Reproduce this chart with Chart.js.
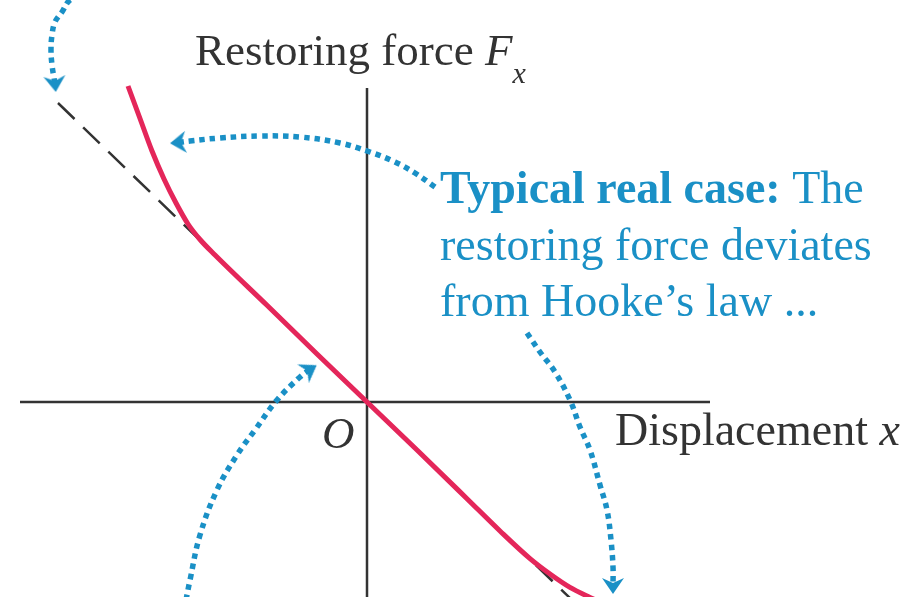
<!DOCTYPE html>
<html>
<head>
<meta charset="utf-8">
<script src="https://cdn.jsdelivr.net/npm/chart.js@4.4.0/dist/chart.umd.min.js"></script>
<style>
  html, body { margin: 0; padding: 0; background: #fff; }
  #wrap { width: 912px; height: 597px; }
</style>
</head>
<body>
<div id="wrap"><canvas id="chart" width="912" height="597"></canvas></div>
<script>
// Hooke's law (ideal, straight) and a typical real spring (curved)
const hookeX = [-3.09, 2.05];
const hookeF = [2.99, -1.98];

const realX = [-2.39, -2.27, -2.15, -2.03, -1.91, -1.79, -1.67, -1.52, -1.00, -0.50, 0, 0.50, 1.00, 1.33, 1.63, 1.83, 2.03, 2.23, 2.33];
const realF = [3.16, 2.835, 2.51, 2.23, 1.99, 1.78, 1.625, 1.47, 0.967, 0.48, 0, -0.48, -0.967, -1.29, -1.566, -1.72, -1.854, -1.954, -2.0];

// axis lines
const axisX = [-3.47, 3.43];
const axisF = [3.14, -1.95];

// dotted callout arrows (x, F pairs)
const arrowTopLeftX = [-2.67, -2.82, -2.97, -3.05, -3.12, -3.15, -3.16, -3.15, -3.13, -3.12];
const arrowTopLeftF = [4.12, 4.08, 4.02, 3.90, 3.80, 3.67, 3.52, 3.37, 3.24, 3.19];
const arrowRealX = [0.68, 0.48, 0.28, 0.03, -0.27, -0.67, -1.07, -1.47, -1.77, -1.88];
const arrowRealF = [2.15, 2.29, 2.40, 2.50, 2.59, 2.65, 2.66, 2.64, 2.61, 2.595];
const arrowLawX = [1.60, 1.73, 1.88, 2.03, 2.13, 2.23, 2.33, 2.40, 2.44, 2.46, 2.46];
const arrowLawF = [0.69, 0.50, 0.30, 0.02, -0.25, -0.48, -0.83, -1.08, -1.38, -1.65, -1.83];
const arrowLowX = [-1.81, -1.77, -1.67, -1.50, -1.30, -1.12, -0.90, -0.67, -0.58];
const arrowLowF = [-1.98, -1.78, -1.33, -0.88, -0.53, -0.28, 0.02, 0.25, 0.32];

const noteLines = ['restoring force deviates', 'from Hooke\u2019s law ...'];

const RED = 'rgb(228, 38, 90)';
const BLUE = '#1a90c6';
const INK = '#333333';
const SERIF = '"Liberation Serif", "Times New Roman", serif';

// barbed arrowhead, pointing up; rotated per dataset
const head = document.createElement('canvas');
head.width = 26;
head.height = 26;
(function () {
    const c = head.getContext('2d');
    c.fillStyle = BLUE;
    c.beginPath();
    c.moveTo(13, 4);
    c.lineTo(24, 20);
    c.lineTo(13, 15);
    c.lineTo(2, 20);
    c.closePath();
    c.fill();
})();

function pts(xs, ys) {
    return xs.map((x, i) => ({ x: x, y: ys[i] }));
}

function arrow(xs, ys, rotation) {
    const last = xs.length - 1;
    return {
        data: pts(xs, ys),
        borderColor: BLUE,
        borderWidth: 5.5,
        borderDash: [5.5, 5],
        borderCapStyle: 'butt',
        tension: 0.4,
        pointStyle: head,
        pointRadius: ctx => ctx.dataIndex === last ? 10 : 0,
        pointRotation: rotation
    };
}

// draws a row of text pieces one after another
function drawRuns(ctx, x, y, runs) {
    let cx = x;
    runs.forEach(r => {
        ctx.font = r.font;
        ctx.fillStyle = r.color;
        ctx.fillText(r.text, cx, y + (r.dy || 0));
        cx += ctx.measureText(r.text).width;
    });
}

const labelPlugin = {
    id: 'labels',
    afterDatasetsDraw(chart) {
        const ctx = chart.ctx;
        const sx = chart.scales.x, sy = chart.scales.y;
        const px = v => sx.getPixelForValue(v);
        const py = v => sy.getPixelForValue(v);
        ctx.save();
        ctx.textBaseline = 'alphabetic';
        ctx.textAlign = 'left';

        drawRuns(ctx, px(-1.72), py(3.37), [
            { text: 'Restoring force ', font: '45px ' + SERIF, color: INK },
            { text: 'F', font: 'italic 45px ' + SERIF, color: INK },
            { text: 'x', font: 'italic 30px ' + SERIF, color: INK, dy: 18 }
        ]);
        drawRuns(ctx, px(2.48), py(-0.43), [
            { text: 'Displacement ', font: '46px ' + SERIF, color: INK },
            { text: 'x', font: 'italic 46px ' + SERIF, color: INK }
        ]);
        drawRuns(ctx, px(-0.45), py(-0.46), [
            { text: 'O', font: 'italic 45px ' + SERIF, color: INK }
        ]);

        drawRuns(ctx, px(0.73), py(1.99), [
            { text: 'Typical real case:', font: 'bold 46px ' + SERIF, color: BLUE },
            { text: ' The', font: '46px ' + SERIF, color: BLUE }
        ]);
        noteLines.forEach((line, i) => {
            drawRuns(ctx, px(0.73), py(1.42 - i * 0.555), [
                { text: line, font: '46px ' + SERIF, color: BLUE }
            ]);
        });
        ctx.restore();
    }
};

new Chart('chart', {
    type: 'line',
    data: {
        datasets: [
            arrow(arrowTopLeftX, arrowTopLeftF, 175),
            arrow(arrowRealX, arrowRealF, -95),
            arrow(arrowLawX, arrowLawF, 180),
            arrow(arrowLowX, arrowLowF, 58),
            {
                data: pts(realX, realF),
                borderColor: RED,
                borderWidth: 5,
                cubicInterpolationMode: 'monotone',
                pointRadius: 0
            },
            {
                data: pts(hookeX, hookeF),
                borderColor: INK,
                borderWidth: 2.5,
                borderDash: [23, 12],
                pointRadius: 0
            },
            {
                data: pts(axisX, [0, 0]),
                borderColor: INK,
                borderWidth: 2.5,
                pointRadius: 0
            },
            {
                data: pts([0, 0], axisF),
                borderColor: INK,
                borderWidth: 2.5,
                pointRadius: 0
            }
        ]
    },
    options: {
        responsive: false,
        animation: false,
        devicePixelRatio: 1,
        events: [],
        layout: { padding: 0, autoPadding: false },
        scales: {
            x: { type: 'linear', min: -3.67, max: 5.45, display: false },
            y: { type: 'linear', min: -1.95, max: 4.02, display: false }
        },
        plugins: {
            legend: { display: false },
            tooltip: { enabled: false }
        }
    },
    plugins: [labelPlugin]
});
</script>
</body>
</html>
